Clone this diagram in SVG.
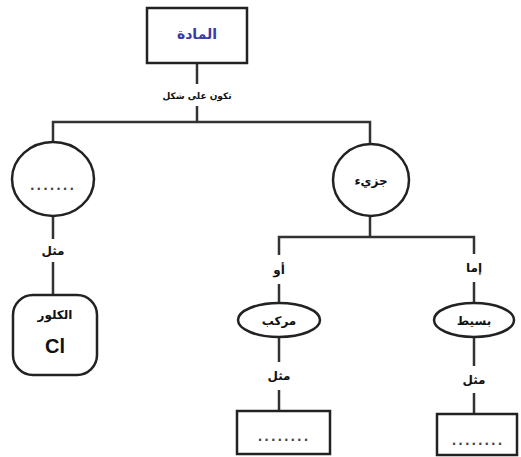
<svg xmlns="http://www.w3.org/2000/svg" width="521" height="457" viewBox="0 0 521 457">
  <style>
    .shape { fill: #ffffff; stroke: #222222; stroke-width: 2.5; }
    .wire { fill: none; stroke: #333333; stroke-width: 2.5; }
    .lbl { font-family: "DejaVu Sans", sans-serif; font-size: 12px; font-weight: bold; fill: #111111; text-anchor: middle; dominant-baseline: middle; }
    .small { font-size: 9px; }
    .dots { font-family: "DejaVu Sans", sans-serif; font-size: 12px; font-weight: bold; fill: #444444; text-anchor: middle; dominant-baseline: middle; letter-spacing: 2px; }
  </style>
  <rect width="521" height="457" fill="#ffffff"/>

  <!-- connectors -->
  <g id="connectors">
    <line class="wire" x1="197" y1="63" x2="197" y2="84"/>
    <line class="wire" x1="197" y1="106" x2="197" y2="122"/>
    <polyline class="wire" points="53,143 53,122 370,122 370,145"/>
    <line class="wire" x1="53" y1="216" x2="53" y2="239"/>
    <line class="wire" x1="53" y1="262" x2="53" y2="295"/>
    <line class="wire" x1="370" y1="216" x2="370" y2="237"/>
    <polyline class="wire" points="279,255 279,237 474,237 474,254"/>
    <line class="wire" x1="279" y1="284" x2="279" y2="303"/>
    <line class="wire" x1="474" y1="282" x2="474" y2="303"/>
    <line class="wire" x1="279" y1="337" x2="279" y2="362"/>
    <line class="wire" x1="279" y1="390" x2="279" y2="411"/>
    <line class="wire" x1="474" y1="337" x2="474" y2="366"/>
    <line class="wire" x1="474" y1="393" x2="474" y2="414"/>
  </g>
  <!-- link labels -->
  <g id="link-labels">
    <text class="lbl small" x="197" y="96">تكون على شكل</text>
    <text class="lbl" x="53" y="251">مثل</text>
    <text class="lbl" x="279" y="270">أو</text>
    <text class="lbl" x="474" y="268">إما</text>
    <text class="lbl" x="279" y="376">مثل</text>
    <text class="lbl" x="474" y="380">مثل</text>
  </g>

  <!-- matter -->
  <g id="matter">
    <rect class="shape" x="147" y="8" width="100" height="55"/>
    <text class="lbl" x="197" y="35" style="fill:#3a3aa8;font-size:14px">المادة</text>
  </g>

  <!-- atom (blank) -->
  <g id="atom">
    <ellipse class="shape" cx="53" cy="179" rx="41" ry="37"/>
    <text class="dots" x="53" y="186">.......</text>
  </g>

  <!-- chlorine -->
  <g id="chlorine">
    <rect class="shape" x="13" y="295" width="84" height="80" rx="20" ry="20"/>
    <text class="lbl" x="55" y="315">الكلور</text>
    <text class="lbl" x="55" y="348" style="font-family:'Liberation Sans',sans-serif;font-size:20px">Cl</text>
  </g>

  <!-- molecule -->
  <g id="molecule">
    <ellipse class="shape" cx="371" cy="180" rx="38" ry="36"/>
    <text class="lbl" x="371" y="181">جزيء</text>
  </g>

  <!-- compound -->
  <g id="compound">
    <ellipse class="shape" cx="279" cy="320" rx="41" ry="17"/>
    <text class="lbl" x="279" y="321">مركب</text>
  </g>

  <!-- element -->
  <g id="element">
    <ellipse class="shape" cx="474" cy="320" rx="40" ry="17"/>
    <text class="lbl" x="474" y="321">بسيط</text>
  </g>

  <!-- compound example (blank) -->
  <g id="compound-example">
    <rect class="shape" x="237" y="411" width="93" height="43"/>
    <text class="dots" x="284" y="437">........</text>
  </g>

  <!-- element example (blank) -->
  <g id="element-example">
    <rect class="shape" x="437" y="414" width="80" height="41"/>
    <text class="dots" x="478" y="441">........</text>
  </g>
</svg>
